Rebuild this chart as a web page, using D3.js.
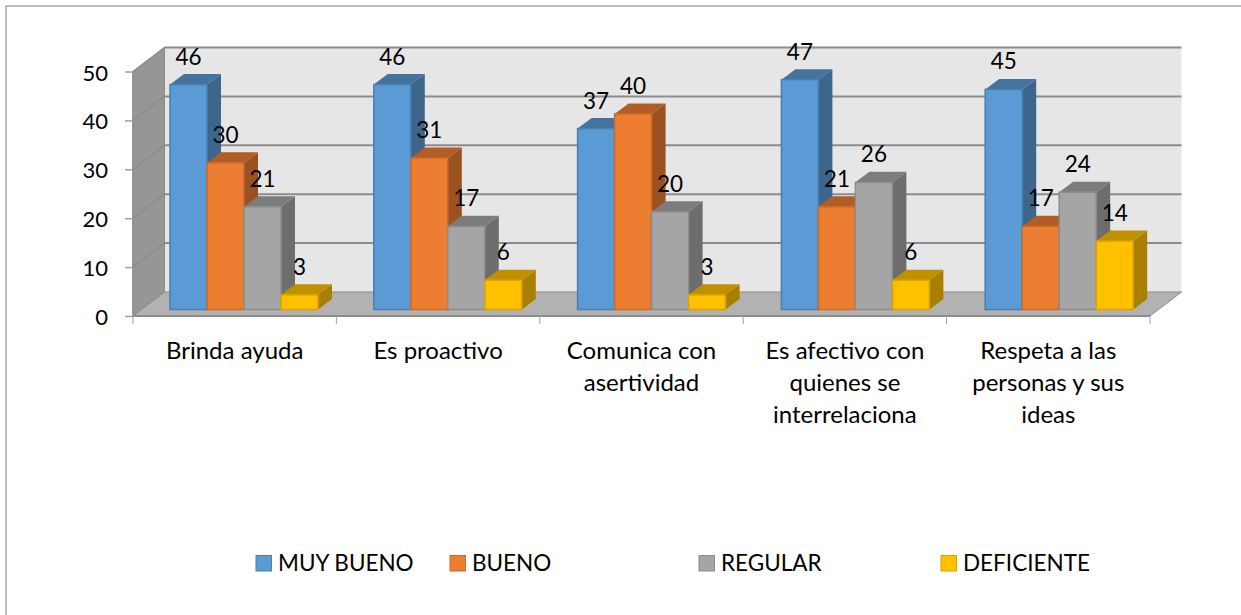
<!DOCTYPE html>
<html lang="en">
<head>
<meta charset="UTF-8">
<title>Chart</title>
<script src="https://d3js.org/d3.v7.min.js"></script>
<style>
    body { margin: 0; background: #fff; }
    text { font-family: Lato, "Open Sans", sans-serif; fill: #000; }
</style>
</head>
<body>
<svg id="chart" width="1241" height="615"></svg>
<script>
const categories = [
    ["Brinda ayuda"],
    ["Es proactivo"],
    ["Comunica con", "asertividad"],
    ["Es afectivo con", "quienes se", "interrelaciona"],
    ["Respeta a las", "personas y sus", "ideas"]
];
const seriesNames = ["MUY BUENO", "BUENO", "REGULAR", "DEFICIENTE"];
const muyBueno = [46, 46, 37, 47, 45];
const bueno = [30, 31, 40, 21, 17];
const regular = [21, 17, 20, 26, 24];
const deficiente = [3, 6, 3, 6, 14];
const seriesValues = [muyBueno, bueno, regular, deficiente];
const yTicks = [0, 10, 20, 30, 40, 50];

// front, side and top colours per series
const fronts = ["#5b9bd5", "#ed7d31", "#a5a5a5", "#ffc000"];
const sides = ["#3d668d", "#9c5220", "#6d6d6d", "#a87f00"];
const tops = ["#44739f", "#b25d25", "#7c7c7c", "#bf9000"];
const edges = ["#4a7fb0", "#c96a2a", "#8c8c8c", "#d8a300"];
const legendX = [256, 450, 699, 941];

const svg = d3.select("#chart");

// plot box, front plane of the 3d floor
const x0 = 133, x1 = 1150, yBase = 316, yTop = 71.5;
const depthX = 31.5, depthY = -24;   // wall depth
const barShiftY = -6.5; // bar front plane inside the floor
const barDepthX = 14, barDepthY = -10.5;

const xScale = d3.scaleBand().domain(d3.range(categories.length)).range([x0, x1]);
const yScale = d3.scaleLinear().domain([0, 50]).range([yBase, yTop]);
// bars sit on a slightly wider pitch than the axis ticks
const barBand = d3.scaleBand().domain(d3.range(categories.length)).range([133, 1152]);
const barW = 37, groupLeft = 37;
const inner = d3.scaleBand().domain(d3.range(seriesNames.length))
    .range([0, barW * seriesNames.length]);

const poly = pts => pts.map(p => p.join(",")).join(" ");

// border
svg.append("path").attr("d", "M6,615V6H1241")
    .attr("fill", "none").attr("stroke", "#a6a6a6").attr("stroke-width", 1.5);

// back wall
svg.append("polygon")
    .attr("points", poly([[x0 + depthX, yTop + depthY], [x1 + depthX, yTop + depthY], [x1 + depthX, yBase + depthY], [x0 + depthX, yBase + depthY]]))
    .attr("fill", "#e6e6e6");
// side wall
svg.append("polygon")
    .attr("points", poly([[x0, yTop], [x0 + depthX, yTop + depthY], [x0 + depthX, yBase + depthY], [x0, yBase]]))
    .attr("fill", "#969696").attr("stroke", "#8c8c8c");
// floor
svg.append("polygon")
    .attr("points", poly([[x0, yBase], [x0 + depthX, yBase + depthY], [x1 + depthX, yBase + depthY], [x1, yBase]]))
    .attr("fill", "#b2b2b2").attr("stroke", "#8c8c8c");

// gridlines
yTicks.forEach(t => {
    const y = yScale(t);
    if (t > 0) {
        svg.append("line").attr("x1", x0 + depthX).attr("x2", x1 + depthX)
            .attr("y1", y + depthY).attr("y2", y + depthY)
            .attr("stroke", "#8c8c8c").attr("stroke-width", 2);
        svg.append("line").attr("x1", x0).attr("x2", x0 + depthX)
            .attr("y1", y).attr("y2", y + depthY)
            .attr("stroke", "#8c8c8c").attr("stroke-width", 1.5);
    }
});
svg.append("line").attr("x1", x0).attr("x2", x0).attr("y1", yTop).attr("y2", yBase)
    .attr("stroke", "#8c8c8c").attr("stroke-width", 1.5);
svg.append("line").attr("x1", x0).attr("x2", x1).attr("y1", yBase).attr("y2", yBase)
    .attr("stroke", "#8c8c8c").attr("stroke-width", 2);

// y axis
const yAxis = d3.axisLeft(yScale).tickValues(yTicks).tickSize(8);
const gy = svg.append("g").attr("transform", `translate(${x0},0)`).call(yAxis);
gy.select(".domain").remove();
gy.selectAll("line").attr("stroke", "#a0a0a0").attr("stroke-width", 1.5);
gy.selectAll("text").attr("font-size", 22).attr("dy", "0.39em").attr("x", -25);

// x ticks on category boundaries
d3.range(categories.length + 1).forEach(i => {
    const x = x0 + i * xScale.bandwidth();
    svg.append("line").attr("x1", x).attr("x2", x).attr("y1", yBase).attr("y2", yBase + 8)
        .attr("stroke", "#a0a0a0");
});

// category labels
categories.forEach((lines, i) => {
    lines.forEach((line, j) => {
        svg.append("text")
            .attr("x", xScale(i) + xScale.bandwidth() / 2)
            .attr("y", 359 + j * 32)
            .attr("text-anchor", "middle")
            .attr("font-size", 24)
            .text(line);
    });
});

// bars, left to right keeps the overlap right
categories.forEach((c, i) => {
    seriesNames.forEach((name, s) => {
        const v = seriesValues[s][i];
        const left = barBand(i) + groupLeft + inner(s);
        const right = left + inner.bandwidth();
        const bottom = yScale(0) + barShiftY;
        const top = yScale(v) + barShiftY;
        const g = svg.append("g");
        // side
        g.append("polygon")
            .attr("points", poly([[right, top], [right + barDepthX, top + barDepthY], [right + barDepthX, bottom + barDepthY], [right, bottom]]))
            .attr("fill", sides[s]);
        // top
        g.append("polygon")
            .attr("points", poly([[left, top], [left + barDepthX, top + barDepthY], [right + barDepthX, top + barDepthY], [right, top]]))
            .attr("fill", tops[s]);
        // front
        g.append("rect").attr("x", left).attr("y", top)
            .attr("width", inner.bandwidth()).attr("height", bottom - top)
            .attr("fill", fronts[s]).attr("stroke", edges[s]).attr("stroke-width", 1.5);
    });
});

// data labels on top of everything
categories.forEach((c, i) => {
    seriesNames.forEach((name, s) => {
        const v = seriesValues[s][i];
        svg.append("text")
            .attr("x", barBand(i) + groupLeft + inner(s) + inner.bandwidth() / 2)
            .attr("y", yScale(v) + barShiftY - 20)
            .attr("text-anchor", "middle")
            .attr("font-size", 22.5)
            .text(v);
    });
});

// legend
seriesNames.forEach((name, s) => {
    svg.append("rect").attr("x", legendX[s]).attr("y", 555.5).attr("width", 15.5).attr("height", 15.5)
        .attr("fill", fronts[s]).attr("stroke", edges[s]);
    svg.append("text").attr("x", legendX[s] + 22).attr("y", 570.5)
        .attr("font-size", 22.5).text(name);
});
</script>
</body>
</html>
